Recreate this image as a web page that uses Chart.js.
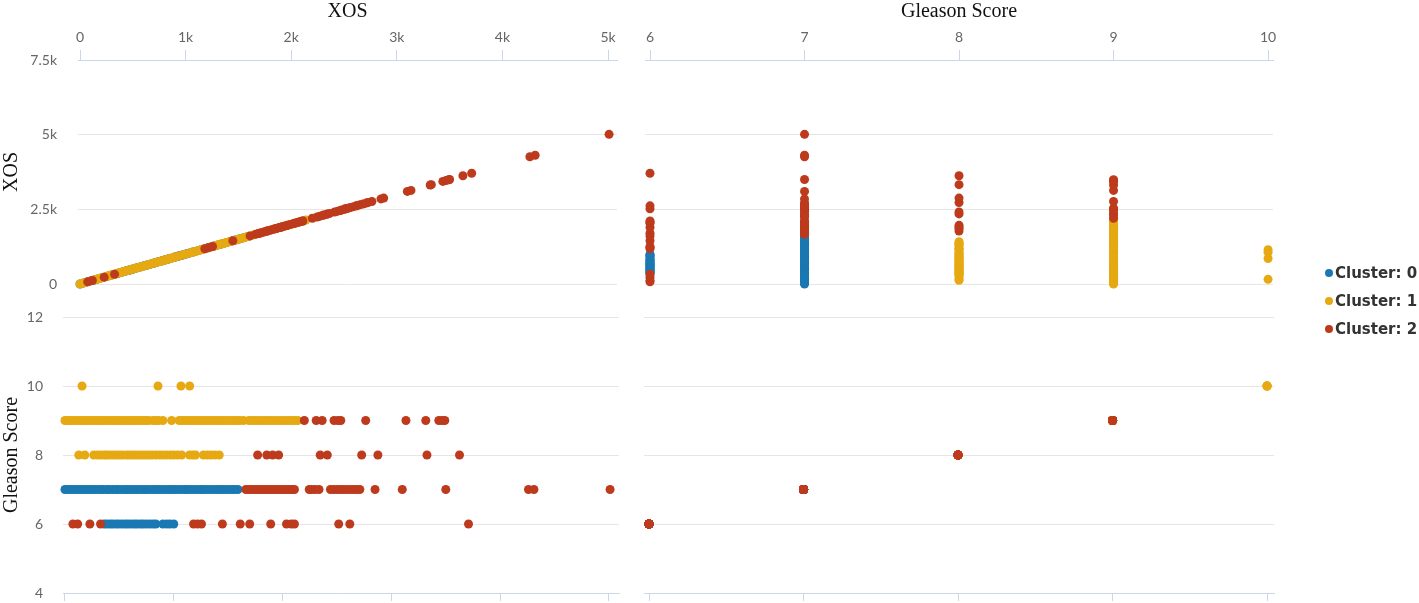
<!DOCTYPE html>
<html>
<head>
<meta charset="utf-8">
<script src="https://cdn.jsdelivr.net/npm/chart.js@4.4.1/dist/chart.umd.min.js"></script>
<style>
html,body{margin:0;padding:0;background:#ffffff;}
#wrap{position:relative;width:1419px;height:603px;overflow:hidden;background:#fff;}
#wrap canvas{position:absolute;left:0;top:0;}
.lg{position:absolute;left:1325px;height:20px;line-height:20px;white-space:nowrap;
  font-family:"DejaVu Sans",sans-serif;font-weight:bold;font-size:15px;color:#333333;}
.lg span.dot{display:inline-block;width:8px;height:8px;border-radius:50%;margin-right:2px;vertical-align:1px;}
</style>
</head>
<body>
<div id="wrap">
  <canvas id="tl" width="1419" height="603"></canvas>
  <canvas id="tr" width="1419" height="603"></canvas>
  <canvas id="bl" width="1419" height="603"></canvas>
  <canvas id="br" width="1419" height="603"></canvas>
</div>
<script>
// ---- labels / ticks ----
const clusterNames = ['Cluster: 0', 'Cluster: 1', 'Cluster: 2'];
const clusterColors = ['#1a78b2', '#e6a912', '#bd3a1c'];
const xosAxisTicks = [0, 1000, 2000, 3000, 4000, 5000];
const xosAxisLabels = ['0', '1k', '2k', '3k', '4k', '5k'];
const xosGridTicks = [0, 2500, 5000, 7500];
const xosGridLabels = ['0', '2.5k', '5k', '7.5k'];
const gleasonAxisTicks = [6, 7, 8, 9, 10];
const gleasonAxisLabels = ['6', '7', '8', '9', '10'];
const gleasonGridTicks = [4, 6, 8, 10, 12];
const gleasonGridLabels = ['4', '6', '8', '10', '12'];

// ---- data: XOS values of the patients, grouped by cluster and Gleason score ----
const cluster0Gleason6 = [360, 385, 415, 440, 470, 495, 525, 555, 580, 610, 640, 665, 695, 720, 750, 780, 810, 835, 900, 935, 965, 1000];
const cluster0Gleason7 = [0, 25, 50, 80, 105, 135, 160, 190, 215, 245, 270, 300, 330, 355, 385, 410, 440, 470, 495, 525, 555, 580, 610, 640, 665, 695, 725, 750, 780, 810, 840, 865, 895, 925, 955, 980, 1010, 1040, 1070, 1100, 1125, 1155, 1185, 1215, 1245, 1270, 1300, 1330, 1360, 1390, 1420, 1445, 1475, 1505, 1535, 1560, 1590];
const cluster1Gleason8 = [127, 182, 265, 300, 327, 360, 382, 410, 440, 470, 500, 530, 564, 590, 618, 650, 680, 710, 740, 770, 800, 836, 870, 900, 935, 970, 1000, 1036, 1073, 1145, 1175, 1200, 1273, 1310, 1345, 1380, 1418];
const cluster1Gleason9 = [0, 15, 40, 65, 90, 115, 140, 165, 190, 215, 240, 265, 290, 315, 340, 365, 390, 415, 440, 465, 490, 515, 540, 565, 590, 615, 640, 665, 690, 715, 740, 770, 810, 835, 860, 900, 980, 1050, 1075, 1100, 1125, 1150, 1180, 1205, 1230, 1260, 1285, 1310, 1340, 1365, 1390, 1420, 1445, 1470, 1500, 1525, 1550, 1580, 1605, 1640, 1690, 1720, 1750, 1780, 1810, 1840, 1870, 1900, 1930, 1960, 1990, 2020, 2050, 2080, 2110, 2140];
const cluster1Gleason10 = [157, 855, 1066, 1146];
const cluster2Gleason6 = [73, 117, 229, 327, 1182, 1218, 1255, 1447, 1611, 1698, 1891, 2036, 2080, 2109, 2516, 2618, 3709];
const cluster2Gleason7 = [1663, 1690, 1715, 1740, 1765, 1790, 1815, 1840, 1865, 1890, 1915, 1940, 1965, 1990, 2015, 2040, 2065, 2090, 2109, 2245, 2270, 2300, 2335, 2440, 2470, 2500, 2530, 2560, 2590, 2620, 2650, 2680, 2710, 2850, 3100, 3500, 4260, 4310, 5010];
const cluster2Gleason8 = [1771, 1855, 1909, 1964, 2346, 2411, 2727, 2876, 3327, 3626];
const cluster2Gleason9 = [2200, 2309, 2364, 2473, 2509, 2535, 2764, 3134, 3316, 3436, 3466, 3491];

const clusterGroups = [
  {6: cluster0Gleason6, 7: cluster0Gleason7},
  {8: cluster1Gleason8, 9: cluster1Gleason9, 10: cluster1Gleason10},
  {6: cluster2Gleason6, 7: cluster2Gleason7, 8: cluster2Gleason8, 9: cluster2Gleason9}
];
const clusterRecords = clusterGroups.map(g => {
  const out = [];
  Object.keys(g).forEach(score => g[score].forEach(v => out.push({xos: v, gleason: Number(score)})));
  return out;
});

// ---- styling helpers ----
const tickFont = {family: "Lato, 'Open Sans', sans-serif", size: 14};
const titleFont = {family: "'Liberation Serif', 'Times New Roman', serif", size: 20};
const AXIS_COLOR = '#ccd6eb';
const GRID_COLOR = '#e6e6e6';

function setTicks(values) {
  return s => { s.ticks = values.map(v => ({value: v})); };
}

function xAxis(pos, min, max, ticks, labels, title, height, tickLen) {
  return {
    type: 'linear', position: pos, min: min, max: max,
    afterBuildTicks: setTicks(ticks),
    afterFit: s => { s.height = height; s.paddingLeft = 0; s.paddingRight = 0; },
    ticks: {display: !!labels, font: tickFont, color: '#666666', padding: 4,
            maxRotation: 0, autoSkip: false,
            callback: (v, i) => labels ? labels[i] : ''},
    grid: {drawOnChartArea: false, drawTicks: true, tickLength: tickLen, color: AXIS_COLOR, lineWidth: 1},
    border: {display: true, color: AXIS_COLOR, width: 1},
    title: title ? {display: true, text: title, font: titleFont, color: '#111111', padding: {top: 0, bottom: 0}}
                 : {display: false}
  };
}

function yAxis(min, max, ticks, labels, title, width, pad) {
  return {
    type: 'linear', position: 'left', min: min, max: max,
    afterBuildTicks: setTicks(ticks),
    afterFit: s => { s.width = width; s.paddingTop = 0; s.paddingBottom = 0; },
    ticks: {display: !!labels, font: tickFont, color: '#666666', padding: pad || 0,
            autoSkip: false, callback: (v, i) => labels ? labels[i] : ''},
    grid: {drawTicks: false, color: GRID_COLOR, lineWidth: 1},
    border: {display: false},
    title: title ? {display: true, text: title, font: titleFont, color: '#111111', padding: {top: 0, bottom: 0}}
                 : {display: false}
  };
}

function panel(id, xKey, yKey, padding, xScale, yScale) {
  const datasets = [0, 1, 2].map(c => ({
    label: clusterNames[c],
    data: clusterRecords[c].map(r => ({x: r[xKey], y: r[yKey]})),
    backgroundColor: clusterColors[c],
    borderWidth: 0,
    pointRadius: 4.5,
    pointHoverRadius: 4.5,
    clip: false,
    order: 3 - c
  }));
  new Chart(document.getElementById(id), {
    type: 'scatter',
    data: {datasets: datasets},
    options: {
      responsive: false, animation: false, events: [],
      layout: {padding: padding},
      plugins: {legend: {display: false}, tooltip: {enabled: false}},
      scales: {x: xScale, y: yScale}
    }
  });
}

// top-left: XOS vs XOS
panel('tl', 'xos', 'xos', {left: 0, top: 0, right: 1419 - 617, bottom: 603 - 284},
  xAxis('top', -19, 5085, xosAxisTicks, xosAxisLabels, 'XOS', 60, 10),
  yAxis(0, 7500, xosGridTicks, xosGridLabels, 'XOS', 78, 21));

// top-right: Gleason (x) vs XOS (y)
panel('tr', 'gleason', 'xos', {left: 645, top: 0, right: 1419 - 1273, bottom: 603 - 284},
  xAxis('top', 5.9676, 10.032, gleasonAxisTicks, gleasonAxisLabels, 'Gleason Score', 60, 10),
  yAxis(0, 7500, xosGridTicks, null, null, 0, 0));

// bottom-left: XOS (x) vs Gleason (y)
panel('bl', 'xos', 'gleason', {left: 0, top: 317, right: 1419 - 619, bottom: 0},
  xAxis('bottom', -18, 5092, xosAxisTicks, null, null, 10, 8),
  yAxis(4, 12, gleasonGridTicks, gleasonGridLabels, 'Gleason Score', 63, 20));

// bottom-right: Gleason vs Gleason
panel('br', 'gleason', 'gleason', {left: 644, top: 317, right: 1419 - 1274, bottom: 0},
  xAxis('bottom', 5.9676, 10.045, gleasonAxisTicks, null, null, 10, 8),
  yAxis(4, 12, gleasonGridTicks, null, null, 0, 0));

// legend
const wrap = document.getElementById('wrap');
const legendCenters = [273, 301, 329];
clusterNames.forEach((name, i) => {
  const row = document.createElement('div');
  row.className = 'lg';
  row.style.top = (legendCenters[i] - 10) + 'px';
  const dot = document.createElement('span');
  dot.className = 'dot';
  dot.style.background = clusterColors[i];
  row.appendChild(dot);
  row.appendChild(document.createTextNode(name));
  wrap.appendChild(row);
});
</script>
</body>
</html>
